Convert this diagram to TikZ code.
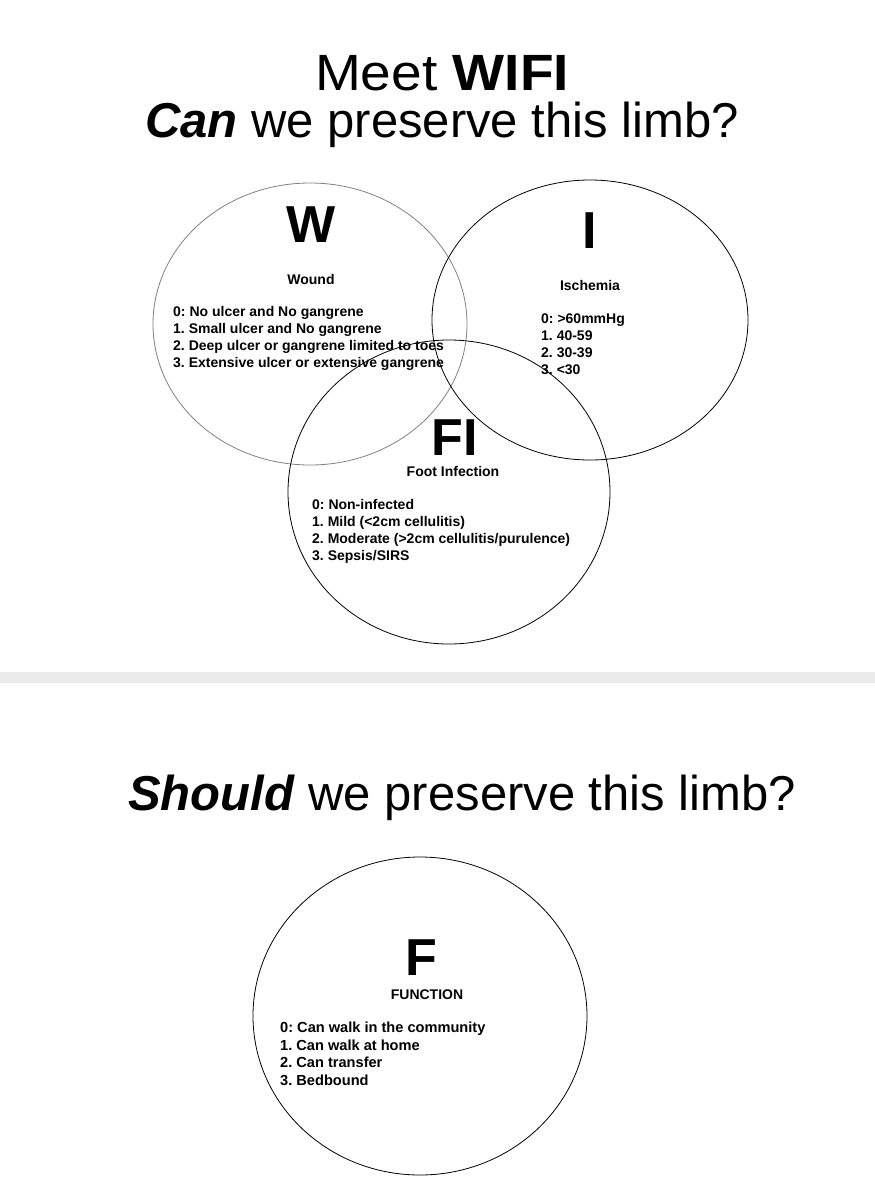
\documentclass[tikz,border=0pt]{standalone}
\usepackage{fontspec}
\setmainfont{Liberation Sans}
\frenchspacing
\begin{document}
\begin{tikzpicture}[x=1pt,y=-1pt,
  ring/.style={black,line width=0.8pt},
  letter/.style={font=\fontsize{52}{52}\selectfont\bfseries,anchor=base,inner sep=0pt},
  caption/.style={font=\fontsize{14}{16}\selectfont\bfseries,anchor=base,inner sep=0pt},
  items/.style={font=\fontsize{14}{17}\selectfont\bfseries,align=left,anchor=north west,inner sep=0pt},
  headline/.style={font=\fontsize{49}{52}\selectfont,anchor=base,inner sep=0pt}]
  \useasboundingbox (0,0) rectangle (875,1200);
  \fill[black!8] (0,672) rectangle (875,683);
  \node[headline,font=\fontsize{51}{52}\selectfont] (meet) at (442,90) {\scalebox{1.08}[1]{Meet \textbf{WIFI}}};
  \node[headline] (can) at (442,137) {\textbf{\textit{Can}} we preserve this limb?};
  \node[headline] (should) at (462,810) {\textbf{\textit{Should}} we preserve this limb?};
  \draw[gray,line width=0.8pt] (310,324) ellipse (157 and 141);
  \draw[ring] (590,320) ellipse (158 and 140);
  \draw[ring] (449,492) ellipse (161 and 152);
  \draw[ring] (420,1016) ellipse (167 and 159);
  \node[letter] (w) at (311,242) {W};
  \node[caption] (wound) at (311,284) {Wound};
  \node[items] (wlist) at (173,306) {0: No ulcer and No gangrene\\ 1. Small ulcer and No gangrene\\
    2. Deep ulcer or gangrene limited to toes\\ 3. Extensive ulcer or extensive gangrene};
  \node[letter] (i) at (590,248) {I};
  \node[caption] (isch) at (590,290) {Ischemia};
  \node[items] (ilist) at (541,314) {0: >60mmHg\\ 1. 40-59\\ 2. 30-39\\ 3. <30};
  \node[letter] (fi) at (455,455) {FI};
  \node[caption] (foot) at (453,476) {Foot Infection};
  \node[items] (filist) at (312,499) {0: Non-infected\\ 1. Mild (<2cm cellulitis)\\
    2. Moderate (>2cm cellulitis/purulence)\\ 3. Sepsis/SIRS};
  \node[letter] (f) at (421,975) {F};
  \node[caption] (func) at (427,999) {FUNCTION};
  \node[items,font=\fontsize{14.6}{17.6}\selectfont\bfseries] (flist) at (280,1022) {0: Can walk in the community\\
    1. Can walk at home\\ 2. Can transfer\\ 3. Bedbound};
\end{tikzpicture}
\end{document}
